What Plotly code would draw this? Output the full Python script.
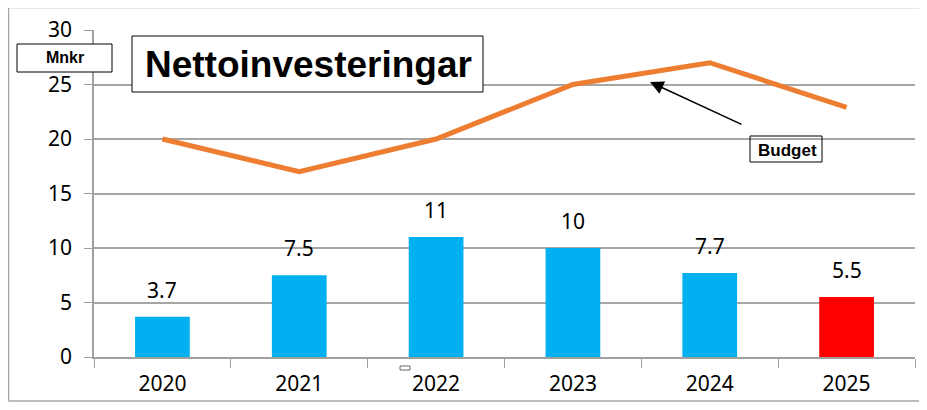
import plotly.graph_objects as go

years = ["2020", "2021", "2022", "2023", "2024", "2025"]
actual = [3.7, 7.5, 11, 10, 7.7, 5.5]
budget = [20, 17, 20, 25, 27, 22.9]
bar_colors = ["#00B0F0", "#00B0F0", "#00B0F0", "#00B0F0", "#00B0F0", "#FF0000"]
y_ticks = [0, 5, 10, 15, 20, 25, 30]

# page body adds an 8px offset, keep the figure small enough to avoid scrollbars
W, H = 911, 394
OFF = 8
# plot area in figure pixels
L, R, T, B = 94 - OFF, 915 - OFF, 30 - OFF, 357 - OFF


def px(x):
    return (x - OFF - L) / (R - L)


def py(y):
    return (B - (y - OFF)) / (B - T)


fig = go.Figure()

fig.add_trace(go.Bar(
    x=years,
    y=actual,
    width=0.4,
    marker=dict(color=bar_colors, line=dict(width=0)),
    showlegend=False,
))

fig.add_trace(go.Scatter(
    x=years,
    y=budget,
    mode="lines",
    line=dict(color="#ED7D31", width=5),
    showlegend=False,
))

# data labels above bars (category index positions)
for i, v in enumerate(actual):
    fig.add_annotation(
        x=i, y=v, text=f"{v:g}", showarrow=False,
        yanchor="middle", yshift=27,
        font=dict(family="Noto Sans", size=21, color="black"),
    )

# title box
fig.add_shape(type="rect", xref="paper", yref="paper",
              x0=px(132), x1=px(483), y0=py(92), y1=py(36),
              line=dict(color="black", width=1), fillcolor="white")
fig.add_annotation(xref="paper", yref="paper", x=px(308), y=py(65),
                   text="<b>Nettoinvesteringar</b>", showarrow=False,
                   xanchor="center", yanchor="middle",
                   font=dict(family="Liberation Sans", size=37, color="black"))

# unit box
fig.add_shape(type="rect", xref="paper", yref="paper",
              x0=px(17), x1=px(112), y0=py(72), y1=py(44),
              line=dict(color="black", width=1), fillcolor="white")
fig.add_annotation(xref="paper", yref="paper", x=px(65), y=py(58),
                   text="<b>Mnkr</b>", showarrow=False,
                   xanchor="center", yanchor="middle",
                   font=dict(family="Liberation Sans", size=16, color="black"))

# budget label + arrow
fig.add_shape(type="rect", xref="paper", yref="paper",
              x0=px(750), x1=px(822), y0=py(162), y1=py(136),
              line=dict(color="black", width=1))
fig.add_annotation(xref="paper", yref="paper", x=px(787), y=py(150),
                   text="<b>Budget</b>", showarrow=False,
                   xanchor="center", yanchor="middle",
                   font=dict(family="Liberation Sans", size=17, color="black"))
fig.add_annotation(xref="paper", yref="paper", x=px(650), y=py(82),
                   text="", showarrow=True, axref="pixel", ayref="pixel",
                   ax=93, ay=43, arrowhead=2, arrowsize=1.8, arrowwidth=1.5,
                   arrowcolor="black")

# stray small box under axis
fig.add_shape(type="rect", xref="paper", yref="paper",
              x0=px(400), x1=px(410), y0=py(370), y1=py(366),
              line=dict(color="#666666", width=1))

# outer frame: top, left and bottom edges only
frame = dict(color="#A6A6A6", width=1.5)
x_left, x_right = px(8.5), px(OFF + W)
y_top, y_bot = py(7.5), py(OFF + H - 1)
fig.add_shape(type="line", xref="paper", yref="paper",
              x0=x_left, x1=x_right, y0=y_top, y1=y_top, line=frame)
fig.add_shape(type="line", xref="paper", yref="paper",
              x0=x_left, x1=x_right, y0=y_bot, y1=y_bot, line=frame)
fig.add_shape(type="line", xref="paper", yref="paper",
              x0=x_left, x1=x_left, y0=y_bot, y1=y_top, line=frame)

fig.update_layout(
    width=W,
    height=H,
    margin=dict(l=L, r=W - R, t=T, b=H - B),
    plot_bgcolor="white",
    paper_bgcolor="white",
    xaxis=dict(
        type="category",
        range=[-0.5, 5.5],
        showline=True, linecolor="#A0A0A0", linewidth=1.5,
        ticks="outside", tickson="boundaries", ticklen=9, tickcolor="#A0A0A0",
        ticklabelstandoff=7,
        tickfont=dict(family="Noto Sans", size=21, color="black"),
        showgrid=False,
    ),
    yaxis=dict(
        range=[0, 30],
        tickvals=y_ticks,
        showline=True, linecolor="#A0A0A0", linewidth=1.5,
        ticks="outside", ticklen=8, tickcolor="#A0A0A0",
        showgrid=True, gridcolor="#A6A6A6", gridwidth=1.5,
        zeroline=False,
        ticklabelstandoff=8,
        tickfont=dict(family="Noto Sans", size=21, color="black"),
    ),
)

fig.write_html("out.html")
